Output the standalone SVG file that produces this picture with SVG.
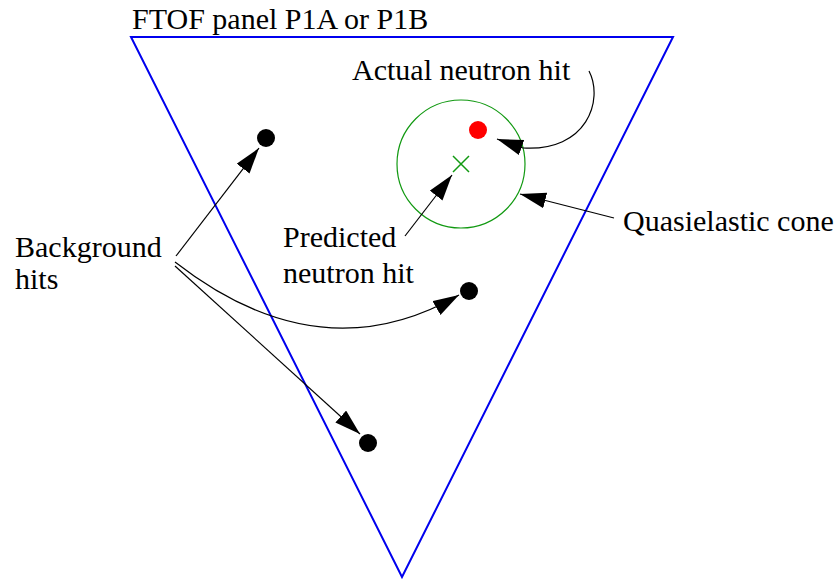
<svg xmlns="http://www.w3.org/2000/svg" width="839" height="579" viewBox="0 0 839 579">
<defs>
<style>
text{font-family:"Liberation Serif","Times New Roman",serif;font-size:30px;fill:#000}
.c{fill:none;stroke:#000;stroke-width:1.2}
.dot{fill:#000}
</style>
<marker id="ah" markerUnits="userSpaceOnUse" markerWidth="30" markerHeight="20" refX="26" refY="8" orient="auto">
<path d="M0,0 L26,8 L0,16 Z" fill="#000"/>
</marker>
</defs>
<rect width="839" height="579" fill="#fff"/>
<g id="panel">
<polygon points="131,37 673,37 402,577" fill="none" stroke="#0000ee" stroke-width="2"/>
<text x="132" y="29">FTOF panel P1A or P1B</text>
</g>
<g id="cone">
<circle cx="461" cy="164" r="64" fill="none" stroke="#119911" stroke-width="1.2"/>
</g>
<g id="predicted">
<path d="M453,156 L469,172 M469,156 L453,172" stroke="#119911" stroke-width="1.5"/>
</g>
<g id="actual">
<circle cx="478" cy="130" r="9" fill="#ff0000"/>
</g>
<g id="bg1"><circle class="dot" cx="266" cy="138" r="9"/></g>
<g id="bg2"><circle class="dot" cx="469" cy="291" r="9"/></g>
<g id="bg3"><circle class="dot" cx="368" cy="443" r="9"/></g>
<g id="labels">
<text x="352" y="80">Actual neutron hit</text>
<text x="623" y="231">Quasielastic cone</text>
<text x="283" y="247">Predicted</text>
<text x="283" y="283">neutron hit</text>
<text x="15" y="257">Background</text>
<text x="15" y="289">hits</text>
</g>
<g id="connectors">
<path class="c" d="M589,71 C604,100 587,152 523,148 L497,139" marker-end="url(#ah)"/>
<path class="c" d="M405,236 L452,175" marker-end="url(#ah)"/>
<path class="c" d="M614,218 L520,194" marker-end="url(#ah)"/>
<path class="c" d="M176,256 L259,148" marker-end="url(#ah)"/>
<path class="c" d="M175,262 Q320,375 459,295" marker-end="url(#ah)"/>
<path class="c" d="M175,266 L360,434" marker-end="url(#ah)"/>
</g>
</svg>
